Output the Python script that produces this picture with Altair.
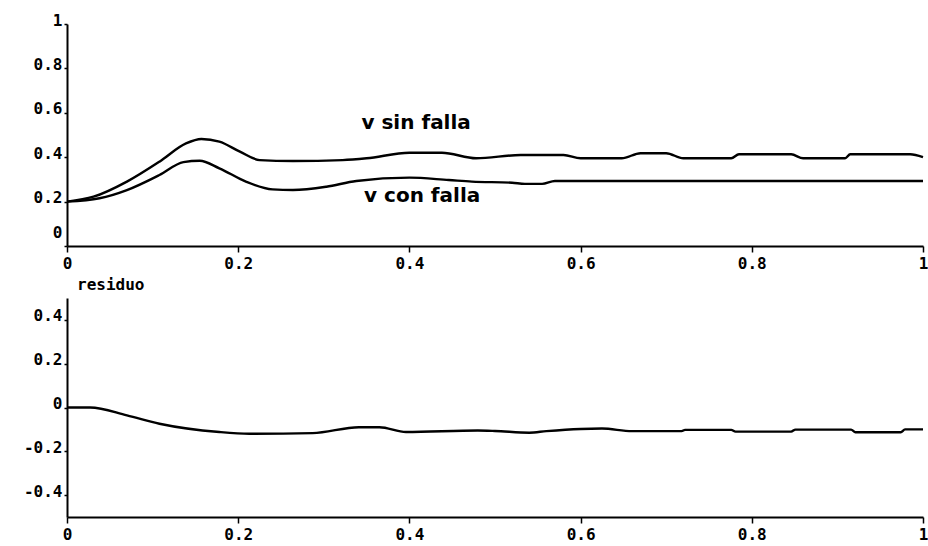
import altair as alt
import pandas as pd

# ---- data ----
t_sin = [0, 0.031, 0.07, 0.108, 0.139, 0.157, 0.178, 0.202, 0.225, 0.264, 0.322, 0.35, 0.40, 0.438,
         0.478, 0.53, 0.58, 0.60, 0.648, 0.67, 0.70, 0.72, 0.776, 0.785, 0.846, 0.86, 0.909, 0.915, 0.985, 1.0]
v_sin = [0.2, 0.222, 0.29, 0.38, 0.462, 0.482, 0.47, 0.425, 0.387, 0.383, 0.387, 0.395, 0.42, 0.42,
         0.395, 0.41, 0.41, 0.395, 0.395, 0.418, 0.418, 0.395, 0.395, 0.413, 0.413, 0.395, 0.395, 0.413, 0.413, 0.40]

t_con = [0, 0.038, 0.07, 0.108, 0.136, 0.155, 0.178, 0.209, 0.24, 0.264, 0.303, 0.338, 0.40, 0.446,
         0.473, 0.52, 0.535, 0.555, 0.57, 1.0]
v_con = [0.2, 0.215, 0.252, 0.32, 0.378, 0.384, 0.35, 0.29, 0.255, 0.252, 0.267, 0.293, 0.308, 0.297,
         0.29, 0.285, 0.28, 0.28, 0.293, 0.293]

t_res = [0, 0.027, 0.07, 0.108, 0.178, 0.213, 0.287, 0.341, 0.365, 0.396, 0.48, 0.50, 0.54, 0.56,
         0.60, 0.625, 0.66, 0.718, 0.722, 0.776, 0.781, 0.846, 0.851, 0.916, 0.921, 0.974, 0.979, 1.0]
v_res = [0, 0, -0.036, -0.074, -0.112, -0.12, -0.117, -0.09, -0.09, -0.112, -0.105, -0.107, -0.115, -0.108,
         -0.098, -0.096, -0.108, -0.108, -0.102, -0.102, -0.110, -0.110, -0.101, -0.101, -0.113, -0.113, -0.100, -0.100]

label_names = ["v sin falla", "v con falla"]
label_x = [0.344, 0.347]
label_y = [0.554, 0.225]

x_ticks = [0, 0.2, 0.4, 0.6, 0.8, 1]
y_ticks_top = [0, 0.2, 0.4, 0.6, 0.8, 1]
y_ticks_res = [-0.4, -0.2, 0, 0.2, 0.4]

# ---- tables ----
top_df = pd.concat([
    pd.DataFrame({"t": t_sin, "v": v_sin, "serie": "v sin falla"}),
    pd.DataFrame({"t": t_con, "v": v_con, "serie": "v con falla"}),
])
res_df = pd.DataFrame({"t": t_res, "v": v_res})
lab_df = pd.DataFrame({"name": label_names, "x": label_x, "y": label_y})

LFONT = "DejaVu Sans Mono"
common = dict(labelFont=LFONT, labelFontSize=16, labelFontWeight="bold", labelColor="black",
              domainColor="black", domainWidth=2, tickColor="black", tickWidth=1.5,
              grid=False, title=None)

x_axis = alt.Axis(values=x_ticks, format=".1~f", tickSize=6, labelPadding=3, labelAngle=0,
                  labelFlush=False, **common)
y_axis_top = alt.Axis(values=y_ticks_top, format=".1~f", tickSize=3, labelPadding=2,
                      labelBaseline="alphabetic",
                      labelOffset={"condition": {"test": "datum.value == 0", "value": -9}, "value": 1},
                      **common)
y_axis_res = alt.Axis(values=y_ticks_res, tickSize=3, labelPadding=2, labelBaseline="alphabetic",
                      labelOffset=1,
                      labelExpr="datum.value < 0 ? '-' + format(-datum.value, '.1~f') : format(datum.value, '.1~f')",
                      **common)

xs = alt.Scale(domain=[0, 1], nice=False)

lines = alt.Chart(top_df).mark_line(color="black", strokeWidth=2.4, interpolate="monotone").encode(
    x=alt.X("t:Q", scale=xs, axis=x_axis),
    y=alt.Y("v:Q", scale=alt.Scale(domain=[0, 1], nice=False), axis=y_axis_top),
    detail="serie:N",
)
texts = alt.Chart(lab_df).mark_text(align="left", baseline="middle", font="DejaVu Sans",
                                    fontWeight="bold", fontSize=20, color="black").encode(
    x="x:Q", y="y:Q", text="name:N")

top = alt.layer(lines, texts).properties(width=856, height=222)

bottom = alt.Chart(res_df).mark_line(color="black", strokeWidth=2.4, interpolate="monotone").encode(
    x=alt.X("t:Q", scale=xs, axis=x_axis),
    y=alt.Y("v:Q", scale=alt.Scale(domain=[-0.5, 0.5], nice=False), axis=y_axis_res),
).properties(width=856, height=219,
             title=alt.Title("residuo", anchor="start", frame="group", dx=10, offset=5, font=LFONT,
                             fontSize=16, fontWeight="bold", color="black"))

chart = alt.vconcat(top, bottom, spacing=52, bounds="flush").properties(
    padding={"left": 23, "top": 12, "right": 0, "bottom": 0},
    background="white",
).configure_view(stroke=None)

chart.save("out.html", embed_options={"renderer": "svg", "actions": False})
